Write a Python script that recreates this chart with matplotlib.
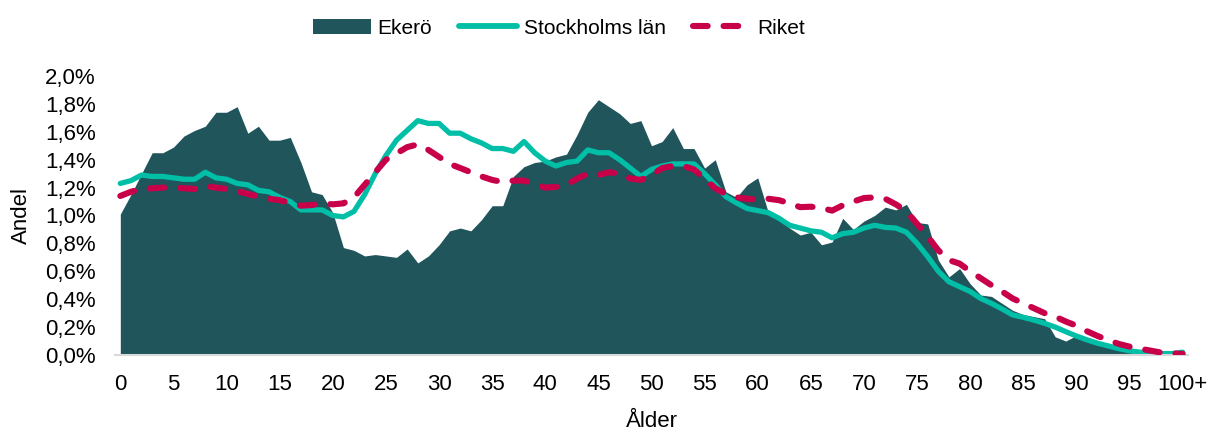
import matplotlib
matplotlib.use("Agg")
import matplotlib.pyplot as plt
from matplotlib.ticker import FuncFormatter, FixedLocator
from matplotlib.lines import Line2D
from matplotlib.patches import Patch

plt.rcParams['font.family'] = ['Liberation Sans', 'DejaVu Sans']

ages = list(range(0, 101))
tick_positions = list(range(0, 101, 5))
tick_labels = [str(a) for a in range(0, 100, 5)] + ["100+"]

ekero = [1.01, 1.15, 1.30, 1.45, 1.45, 1.49, 1.57, 1.61, 1.64, 1.74,
         1.74, 1.78, 1.59, 1.64, 1.54, 1.54, 1.56, 1.38, 1.17, 1.15,
         1.02, 0.77, 0.75, 0.71, 0.72, 0.71, 0.70, 0.76, 0.66, 0.71,
         0.79, 0.89, 0.91, 0.89, 0.97, 1.07, 1.07, 1.28, 1.35, 1.38,
         1.39, 1.42, 1.44, 1.58, 1.74, 1.83, 1.78, 1.73, 1.66, 1.68,
         1.50, 1.53, 1.63, 1.48, 1.48, 1.34, 1.40, 1.17, 1.13, 1.22,
         1.27, 1.02, 0.98, 0.91, 0.86, 0.88, 0.79, 0.81, 0.98, 0.90,
         0.96, 1.00, 1.06, 1.04, 1.08, 0.95, 0.94, 0.68, 0.56, 0.62,
         0.51, 0.43, 0.42, 0.37, 0.32, 0.29, 0.275, 0.26, 0.13, 0.10,
         0.14, 0.11, 0.085, 0.06, 0.05, 0.04, 0.03, 0.025, 0.02, 0.015,
         0.02]

stockholm = [1.23, 1.25, 1.29, 1.28, 1.28, 1.27, 1.26, 1.26, 1.31, 1.27,
             1.26, 1.23, 1.22, 1.18, 1.17, 1.13, 1.10, 1.04, 1.04, 1.04,
             1.00, 0.99, 1.03, 1.15, 1.30, 1.43, 1.54, 1.61, 1.68, 1.66,
             1.66, 1.59, 1.59, 1.55, 1.52, 1.48, 1.48, 1.46, 1.53, 1.45,
             1.39, 1.355, 1.38, 1.39, 1.47, 1.45, 1.45, 1.40, 1.34, 1.28,
             1.33, 1.355, 1.37, 1.37, 1.37, 1.30, 1.22, 1.135, 1.09, 1.05,
             1.035, 1.02, 0.98, 0.93, 0.91, 0.89, 0.88, 0.84, 0.87, 0.88,
             0.91, 0.93, 0.915, 0.91, 0.88, 0.80, 0.705, 0.60, 0.525, 0.49,
             0.455, 0.405, 0.37, 0.33, 0.287, 0.27, 0.25, 0.227, 0.20, 0.167,
             0.136, 0.108, 0.084, 0.065, 0.045, 0.03, 0.02, 0.015, 0.01, 0.01,
             0.02]

riket = [1.14, 1.17, 1.19, 1.195, 1.20, 1.20, 1.195, 1.19, 1.21, 1.20,
         1.19, 1.175, 1.155, 1.135, 1.12, 1.11, 1.09, 1.07, 1.075, 1.087,
         1.08, 1.087, 1.13, 1.22, 1.31, 1.40, 1.445, 1.49, 1.51, 1.47,
         1.42, 1.37, 1.34, 1.31, 1.28, 1.255, 1.24, 1.25, 1.25, 1.225,
         1.20, 1.205, 1.22, 1.265, 1.30, 1.29, 1.31, 1.30, 1.265, 1.255,
         1.29, 1.34, 1.355, 1.355, 1.33, 1.265, 1.195, 1.155, 1.13, 1.12,
         1.115, 1.12, 1.11, 1.087, 1.06, 1.063, 1.054, 1.035, 1.073, 1.10,
         1.125, 1.13, 1.12, 1.08, 1.03, 0.94, 0.85, 0.75, 0.68, 0.655,
         0.60, 0.55, 0.50, 0.455, 0.405, 0.37, 0.335, 0.30, 0.275, 0.24,
         0.21, 0.17, 0.136, 0.107, 0.079, 0.06, 0.045, 0.031, 0.017, 0.012,
         0.008]

c_area = "#20555C"
c_sthlm = "#00BFA6"
c_riket = "#C8004A"

fig = plt.figure(figsize=(12.11, 4.30), dpi=100)
ax = fig.add_axes([115/1211, 1-355/430, (1188-115)/1211, (355-76)/430])

ax.fill_between(ages, ekero, 0, color=c_area, linewidth=0, zorder=1)
ax.plot(ages, stockholm, color=c_sthlm, linewidth=3.8, solid_capstyle='round',
        solid_joinstyle='round', zorder=2)
ax.plot(ages, riket, color=c_riket, linewidth=4.4, dashes=(2.4, 2.6),
        dash_capstyle='round', dash_joinstyle='round', zorder=3)

ax.set_xlim(-0.5, 100.5)
ax.set_ylim(0, 2.0)
ax.yaxis.set_major_locator(FixedLocator([i*0.2 for i in range(11)]))
ax.yaxis.set_major_formatter(FuncFormatter(lambda v, p: f"{v:.1f}%".replace(".", ",")))
ax.set_xticks(tick_positions)
ax.set_xticklabels(tick_labels)

for s in ['top', 'right', 'left']:
    ax.spines[s].set_visible(False)
ax.spines['bottom'].set_color('#D9D9D9')
ax.spines['bottom'].set_linewidth(1.5)
ax.tick_params(axis='both', length=0, labelsize=16, colors='black')
ax.tick_params(axis='x', pad=14)
ax.tick_params(axis='y', pad=14)

ax.set_xlabel("Ålder", fontsize=16, labelpad=11)
ax.set_ylabel("Andel", fontsize=16, labelpad=9)

handles = [
    Patch(facecolor=c_area, edgecolor='none'),
    Line2D([0], [0], color=c_sthlm, linewidth=4.2, solid_capstyle='round'),
    Line2D([0], [0], color=c_riket, linewidth=4.4, dashes=(2.4, 2.6), dash_capstyle='round'),
]
fig.legend(handles, ["Ekerö", "Stockholms län", "Riket"], loc='center',
           bbox_to_anchor=(559/1211, 1-28/430), ncol=3, frameon=False, fontsize=15,
           handlelength=2.8, handleheight=0.75, handletextpad=0.3, columnspacing=1.3,
           borderpad=0, borderaxespad=0)

fig.savefig("out.png", dpi=100)
